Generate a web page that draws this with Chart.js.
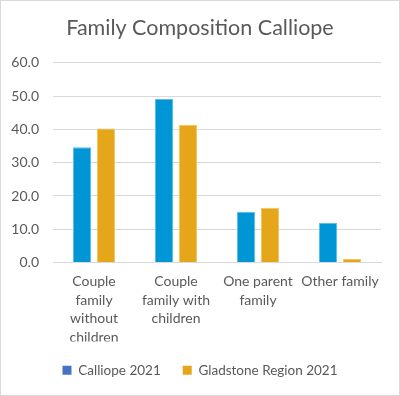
<!DOCTYPE html>
<html>
<head>
<meta charset="utf-8">
<script src="https://cdn.jsdelivr.net/npm/chart.js@4"></script>
<style>
  html, body { margin: 0; padding: 0; background: #fff; }
  #wrap { position: relative; width: 400px; height: 396px; box-sizing: border-box; border: 1px solid #d9d9d9; }
</style>
</head>
<body>
<div id="wrap"><canvas id="chart"></canvas></div>
<script>
const categories = [
  ['Couple', 'family', 'without', 'children'],
  ['Couple', 'family with', 'children'],
  ['One parent', 'family'],
  ['Other family']
];
const calliope2021 = [34.6, 49.1, 15.3, 11.9];
const gladstone2021 = [40.3, 41.4, 16.5, 1.1];
const seriesNames = ['Calliope 2021', 'Gladstone Region 2021'];

const font = 'Lato, "Open Sans", sans-serif';
const grey = '#595959';

const ctx = document.getElementById('chart').getContext('2d');
new Chart(ctx, {
  type: 'bar',
  data: {
    labels: categories,
    datasets: [
      {
        label: seriesNames[0],
        data: calliope2021,
        backgroundColor: '#0096d6',
        borderColor: '#5cbce6',
        borderWidth: 1,
        categoryPercentage: 0.58,
        barPercentage: 0.77
      },
      {
        label: seriesNames[1],
        data: gladstone2021,
        backgroundColor: '#e6a619',
        borderColor: '#f0c45e',
        borderWidth: 1,
        categoryPercentage: 0.58,
        barPercentage: 0.77
      }
    ]
  },
  options: {
    responsive: true,
    maintainAspectRatio: false,
    animation: false,
    layout: { padding: { left: 10, right: 10, bottom: 8, top: 0 } },
    plugins: {
      title: {
        display: true,
        text: 'Family Composition Calliope',
        color: grey,
        font: { family: font, size: 21.5, weight: 'normal' },
        padding: { top: 14, bottom: 22 }
      },
      legend: {
        position: 'bottom',
        labels: {
          color: grey,
          font: { family: font, size: 13.5 },
          boxWidth: 9,
          boxHeight: 9,
          padding: 22,
          generateLabels: function(chart) {
            const items = Chart.defaults.plugins.legend.labels.generateLabels(chart);
            items[0].fillStyle = '#4472c4';
            items[0].strokeStyle = '#4472c4';
            items[1].strokeStyle = '#e6a619';
            items.forEach(it => { it.lineWidth = 0; });
            return items;
          }
        }
      },
      tooltip: { enabled: false }
    },
    scales: {
      x: {
        grid: { display: false, drawTicks: false },
        border: { color: '#d9d9d9' },
        afterFit: function(scale) { scale.height = scale.height - 15; },
        ticks: {
          color: grey,
          font: { family: font, size: 14, lineHeight: 1.32 },
          padding: 10,
          maxRotation: 0,
          autoSkip: false
        }
      },
      y: {
        min: 0,
        max: 60,
        afterFit: function(scale) { scale.width = 42; },
        grid: { color: '#d9d9d9', drawTicks: false },
        border: { display: false },
        ticks: {
          stepSize: 10,
          color: grey,
          font: { family: font, size: 14 },
          padding: 14,
          callback: v => v.toFixed(1)
        }
      },
      // empty right-hand spacer so the plot ends where the reference's does
      spacer: {
        position: 'right',
        grid: { display: false, drawTicks: false },
        border: { display: false },
        ticks: { display: false },
        afterFit: function(scale) { scale.width = 8; }
      }
    }
  }
});
</script>
</body>
</html>
